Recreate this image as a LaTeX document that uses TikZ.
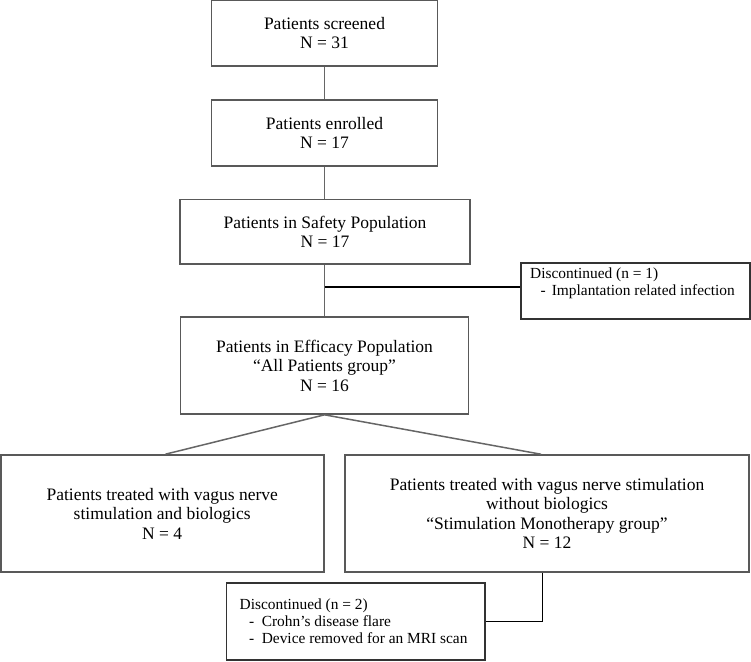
\documentclass[tikz,border=0pt]{standalone}
\usepackage{fontspec}
\setmainfont{Liberation Serif}
\usetikzlibrary{calc}
\begin{document}
\begin{tikzpicture}[x=1pt,y=-1pt,
  box/.style={draw=black!65, line width=1.6pt, rectangle, inner sep=0pt, align=center,
    font=\fontsize{17.5}{19.5}\selectfont},
  sidebox/.style={draw=black!80, line width=1.6pt, rectangle, inner sep=0pt},
  sidetext/.style={align=left, inner sep=0pt, font=\fontsize{15.4}{16.8}\selectfont},
  link/.style={draw=black!60, line width=1.5pt},
  branch/.style={draw=black, line width=1.5pt}]
\useasboundingbox (0,0) rectangle (751,661);

\node[box, minimum width=226pt, minimum height=65pt] (scr) at (324.5,33.2) {Patients screened\\N = 31};
\node[box, minimum width=226pt, minimum height=66pt] (enr) at (324.5,133) {Patients enrolled\\N = 17};
\node[box, minimum width=290pt, minimum height=64.5pt] (saf) at (325,231.8) {Patients in Safety Population\\N = 17};
\node[box, minimum width=288pt, minimum height=97pt] (eff) at (324.5,365.5) {Patients in Efficacy Population\\``All Patients group''\\N = 16};
\node[box, minimum width=323pt, minimum height=117pt] (lb) at (162.2,513.5) {Patients treated with vagus nerve\\stimulation and biologics\\N = 4};
\node[box, minimum width=404pt, minimum height=117pt] (rb) at (547,513.5) {Patients treated with vagus nerve stimulation\\without biologics\\``Stimulation Monotherapy group''\\N = 12};

\node[sidebox, minimum width=229pt, minimum height=56pt] (d1) at (635.2,291) {};
\node[sidetext, anchor=north west] (d1t) at (530,267.5) {Discontinued (n = 1)\\\hspace*{10.5pt}-\hspace{6pt}Implantation related infection};

\node[sidebox, minimum width=258.5pt, minimum height=77pt] (d2) at (355.8,621.3) {};
\node[sidetext, anchor=west] (d2t) at (239.5,621.3) {Discontinued (n = 2)\\\hspace*{9.5pt}-\hspace{7.5pt}Crohn’s disease flare\\\hspace*{9.5pt}-\hspace{7.5pt}Device removed for an MRI scan};

\draw[link] (scr.south) -- (scr.south |- enr.north);
\draw[link] (enr.south) -- (enr.south |- saf.north);
\draw[link] (eff.north |- saf.south) -- (eff.north);
\coordinate (j) at (324.5,287);
\draw[branch] (j) -- (j -| d1.west);
\draw[link] (eff.south) -- ($(lb.north west)!0.51!(lb.north east)$);
\draw[link] (eff.south) -- ($(rb.north west)!0.485!(rb.north east)$);
\draw[branch] ($(rb.south west)!0.489!(rb.south east)$) |- (d2.east);
\end{tikzpicture}
\end{document}
